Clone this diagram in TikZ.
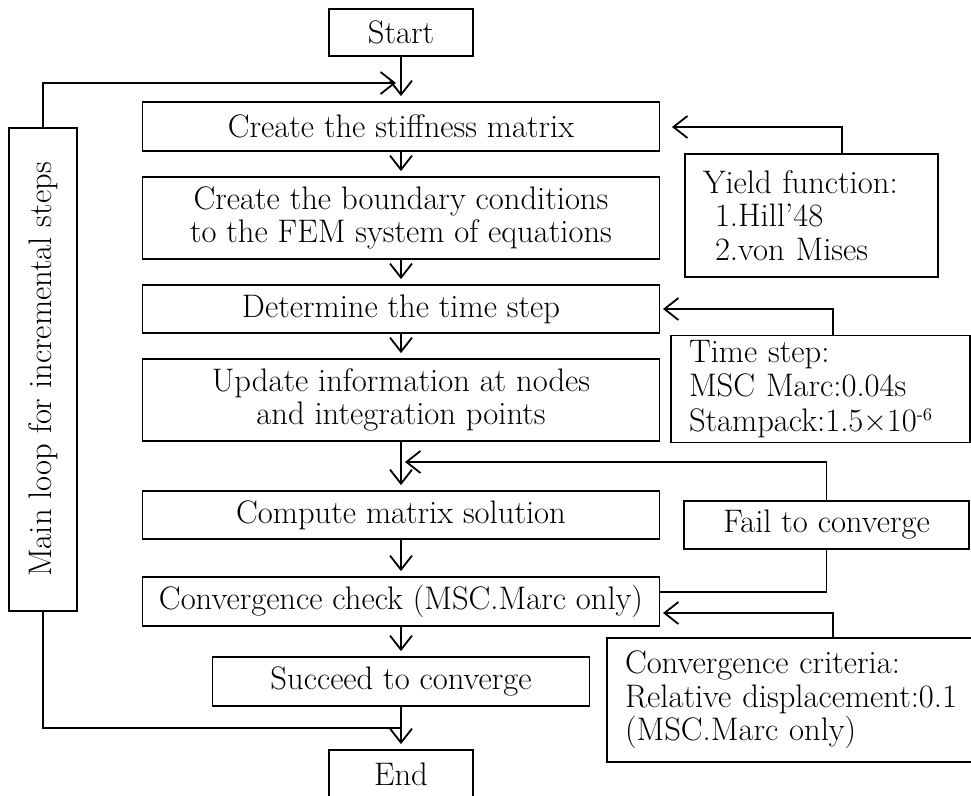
\documentclass[tikz,border=0pt]{standalone}
\usepackage{fontspec}
\usepackage{amsmath}
\usetikzlibrary{arrows.meta}

\begin{document}
\begin{tikzpicture}[x=0.5pt,y=-0.5pt,
  box/.style={draw, line width=0.9pt, inner sep=0pt, align=center, font=\fontsize{16.3}{16.3}\selectfont},
  note/.style={box, align=left, inner xsep=9pt, font=\fontsize{16.3}{16.8}\selectfont},
  arr/.style={-{Straight Barb[length=7pt,width=11pt]}, line width=0.9pt},
  flow/.style={arr, shorten >=2.5pt},
  line/.style={line width=0.9pt}]
\useasboundingbox (0,0) rectangle (971,796);
\node[box, minimum width=72pt, minimum height=23.5pt] (start) at (401,32.5){Start};
\node[box, minimum width=258.5pt, minimum height=24.5pt] (stiff) at (401,126.5){Create the stiffness matrix};
\node[box, minimum width=258.5pt, minimum height=41pt] (bound) at (401,218){Create the boundary conditions\\to the FEM system of equations};
\node[box, minimum width=258.5pt, minimum height=24pt] (tstep) at (401,309){Determine the time step};
\node[box, minimum width=258.5pt, minimum height=41pt] (update) at (401,400){Update information at nodes\\and integration points};
\node[box, minimum width=258.5pt, minimum height=24pt] (compute) at (401,515){Compute matrix solution};
\node[box, minimum width=258.5pt, minimum height=24.5pt] (check) at (401,601.5){Convergence check (MSC.Marc only)};
\node[box, minimum width=188.5pt, minimum height=24.5pt] (succeed) at (401,681.5){Succeed to converge};
\node[box, minimum width=72pt, minimum height=24pt] (end) at (401,774){End};
\node[box, rotate=90, minimum width=241.5pt, minimum height=34pt] (loop) at (43,369.5){Main loop for incremental steps};
\node[note, text width=108.5pt, minimum height=61.5pt] (yield) at (811.5,215.5){Yield function:\\\hspace*{6pt}1.Hill'48\\\hspace*{6pt}2.von Mises};
\node[note, text width=131.5pt, minimum height=53.5pt, font=\fontsize{16.3}{17.4}\selectfont] (tinfo) at (820.5,389){Time step:\\MSC Marc:0.04s\\Stampack:1.5×10{\fontsize{9}{9}\selectfont\raisebox{0.6em}{-6}}};
\node[box, minimum width=142.5pt, minimum height=24pt] (fail) at (826.5,525){Fail to converge};
\node[note, text width=172pt, minimum height=62pt] (crit) at (797,700){Convergence criteria:\\Relative displacement:0.1\\(MSC.Marc only)};
\coordinate (topin) at (396,83);
\coordinate (botin) at (401,728);
\coordinate (yieldin) at (672,127);
\coordinate (tinfoin) at (663,309);
\coordinate (failin) at (405,462);
\coordinate (critin) at (663,613);
\foreach \from/\to in
{start/stiff,stiff/bound,bound/tstep,tstep/update,update/compute,compute/check,check/succeed,succeed/end}
\draw[flow] (\from) -- (\to);
\draw[arr] (loop.east) |- (topin);
\draw[line] (loop.west) |- (botin);
\draw[arr] ([xshift=15.25pt]yield.north) |- (yieldin);
\draw[arr] ([xshift=6.25pt]tinfo.north) |- (tinfoin);
\draw[arr] (fail.north) |- (failin);
\draw[line] (fail.south) |- ([yshift=4.75pt]check.east);
\draw[arr] ([xshift=18pt]crit.north) |- (critin);
\end{tikzpicture}
\end{document}
